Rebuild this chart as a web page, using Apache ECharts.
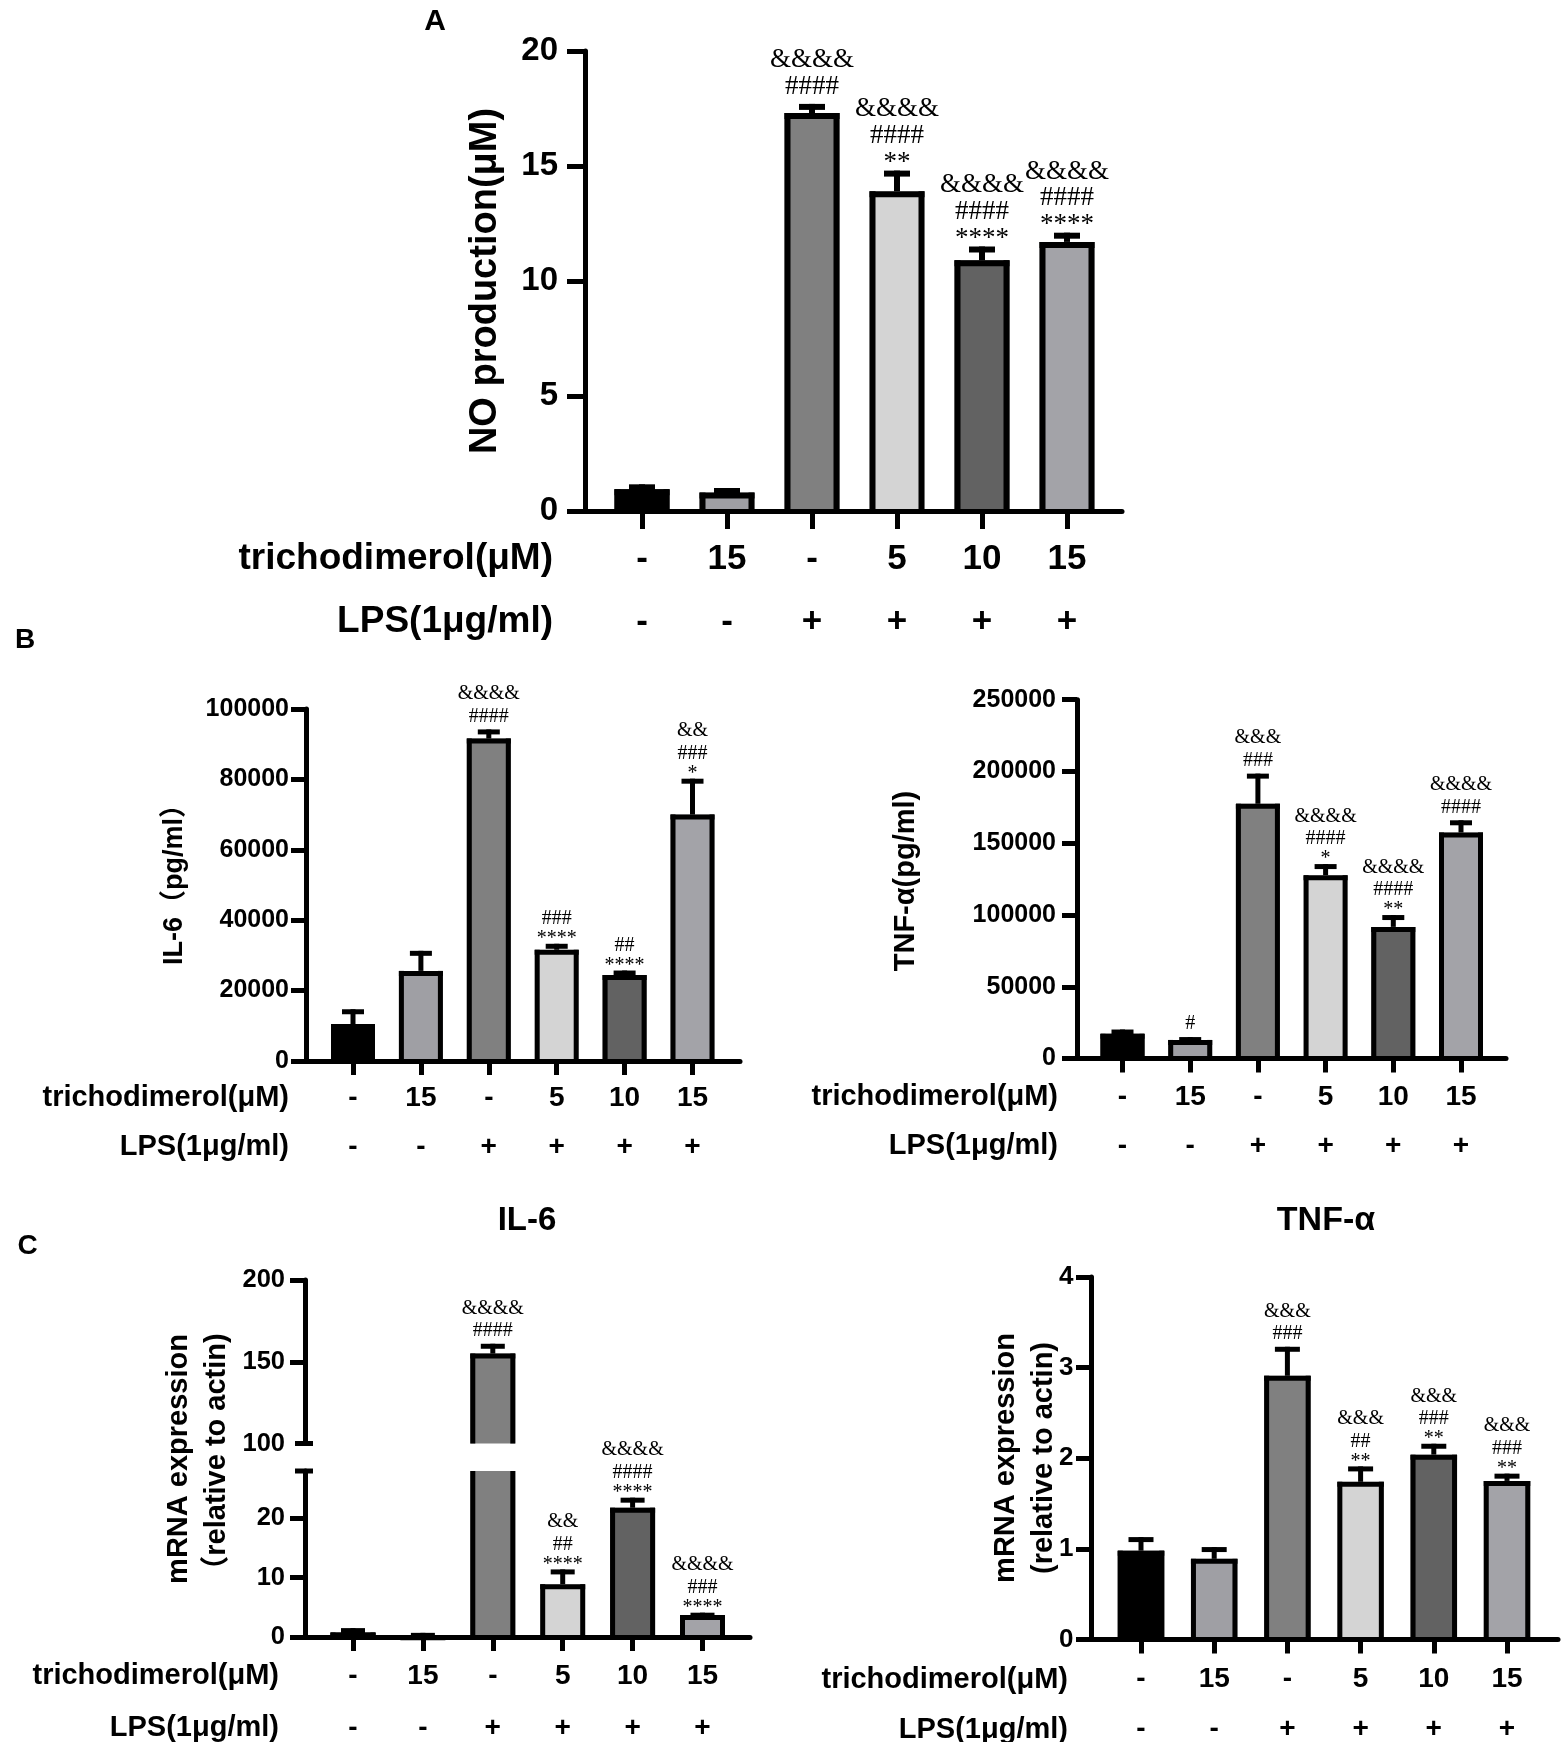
<!DOCTYPE html>
<html><head><meta charset="utf-8">
<script src="https://cdn.jsdelivr.net/npm/echarts@6/dist/echarts.min.js"></script>
<style>html,body{margin:0;padding:0;background:#fff}#c{width:1562px;height:1742px}</style>
</head><body><div id="c"></div>
<script>
// ---------- DATA ----------
const trichodimerol = ['-', '15', '-', '5', '10', '15'];
const lps = ['-', '-', '+', '+', '+', '+'];
const barColors = ['#000000', '#9f9fa4', '#808080', '#d4d4d4', '#626262', '#a3a3a8'];

// Panel A: NO production (μM)
const noMean = [0.95, 0.8, 17.3, 13.9, 10.9, 11.7];
const noErr = [1.16, 1.0, 17.7, 14.8, 11.5, 12.1];
const noSig = ['', '', '&&&&\n####', '&&&&\n####\n**', '&&&&\n####\n****', '&&&&\n####\n****'];
const noTicks = { min: 0, max: 20, interval: 5 };

// Panel B left: IL-6 (pg/ml)
const il6Mean = [10500, 25600, 91600, 31600, 24400, 70000];
const il6Err = [14700, 31300, 94200, 33300, 25700, 80200];
const il6Sig = ['', '', '&&&&\n####', '###\n****', '##\n****', '&&\n###\n*'];
const il6Ticks = { min: 0, max: 100000, interval: 20000 };

// Panel B right: TNF-α (pg/ml)
const tnfMean = [17250, 13000, 177500, 127750, 91750, 157500];
const tnfErr = [20250, 15000, 198500, 135500, 100000, 166000];
const tnfSig = ['', '#', '&&&\n###', '&&&&\n####\n*', '&&&&\n####\n**', '&&&&\n####'];
const tnfTicks = { min: 0, max: 250000, interval: 50000 };

// Panel C left: IL-6 mRNA (broken axis)
const il6mMean = [0.75, 0.3, 155, 8.9, 21.8, 3.7];
const il6mErr = [1.5, 0.7, 161, 11.4, 23.5, 4.1];
const il6mSig = ['', '', '&&&&\n####', '&&\n##\n****', '&&&&\n####\n****', '&&&&\n###\n****'];
const il6mLowTicks = { min: 0, max: 28, interval: 10, values: [0, 10, 20] };
const il6mHighTicks = { min: 100, max: 200, interval: 50, values: [100, 150, 200] };

// Panel C right: TNF-α mRNA
const tnfmMean = [0.98, 0.89, 2.91, 1.74, 2.04, 1.75];
const tnfmErr = [1.13, 1.02, 3.23, 1.91, 2.16, 1.83];
const tnfmSig = ['', '', '&&&\n###', '&&&\n##\n**', '&&&\n###\n**', '&&&\n###\n**'];
const tnfmTicks = { min: 0, max: 4, interval: 1 };

// ---------- LAYOUT ----------
const FONT = '"Liberation Sans", Arial, "Noto Sans CJK SC", sans-serif';
const SERIF = '"Liberation Serif", "Times New Roman", serif';
const annBig = { F: 27, L: 26.7, h0: 17.4, s0: 12, gs: 22.5 };
const annSmall = { F: 20, L: 22.5, h0: 13, s0: 8.5, gs: 16.5 };

const L = {
  A:  { axisX: 585, endX: 1122, top: 51, bottom: 511, first: 642, step: 85, barW: 55, border: 6, axisW: 5, yTick: 18, xTick: 18, yFont: 33, yMargin: 27, xFont: 35, rowLH: 63, row1: 559, capW: 26, errW: 6, ann: annBig, headRight: 553, headFont: 37 },
  BL: { axisX: 306, endX: 740, top: 709, bottom: 1061, first: 353, step: 67.9, barW: 44, border: 5, axisW: 5, yTick: 15, xTick: 14, yFont: 25, yMargin: 17, xFont: 28, rowLH: 49, row1: 1098, capW: 22, errW: 5, ann: annSmall, headRight: 289, headFont: 29 },
  BR: { axisX: 1077, endX: 1506, top: 699.7, bottom: 1058.6, first: 1122.5, step: 67.7, barW: 44, border: 5, axisW: 5, yTick: 15, xTick: 14, yFont: 25, yMargin: 21, xFont: 28, rowLH: 49, row1: 1097, capW: 22, errW: 5, ann: annSmall, headRight: 1058, headFont: 29 },
  CL: { axisX: 305, endX: 750, top: 1471, bottom: 1637, first: 353, step: 69.9, barW: 45, border: 5, axisW: 5, yTick: 15, xTick: 14, yFont: 25.5, yMargin: 20, xFont: 28, rowLH: 52, row1: 1676, capW: 24, errW: 5, ann: annSmall, headRight: 279, headFont: 29 },
  CU: { axisX: 305, endX: 750, top: 1280, bottom: 1443.5, first: 353, step: 69.9, barW: 45, border: 5, axisW: 5, yTick: 15, xTick: 14, yFont: 25.5, yMargin: 20, xFont: 28, rowLH: 52, row1: 1676, capW: 24, errW: 5, ann: annSmall },
  CR: { axisX: 1091, endX: 1558, top: 1277, bottom: 1639.5, first: 1141, step: 73.2, barW: 46.5, border: 5, axisW: 5, yTick: 15, xTick: 14, yFont: 26, yMargin: 17.5, xFont: 28, rowLH: 50, row1: 1679.5, capW: 25, errW: 5, ann: annSmall, headRight: 1068, headFont: 29 }
};

// ---------- BUILDERS ----------
const grids = [], xAxes = [], yAxes = [], series = [], graphics = [];

function addPanel(p, ticks, means, errs, sigs, opts) {
  opts = opts || {};
  const gi = grids.length;
  grids.push({ left: p.axisX, top: p.top, width: p.endX - p.axisX, height: p.bottom - p.top, containLabel: false, outerBoundsMode: 'none' });
  const showX = !opts.hideX;
  xAxes.push({
    type: 'value', gridIndex: gi, z: 5,
    min: (p.axisX - p.first) / p.step, max: (p.endX - p.first) / p.step,
    axisLine: { show: showX, onZero: false, lineStyle: { color: '#000', width: p.axisW } },
    axisTick: { show: showX, customValues: [0, 1, 2, 3, 4, 5], length: p.xTick, lineStyle: { color: '#000', width: p.axisW } },
    axisLabel: {
      show: showX, customValues: [0, 1, 2, 3, 4, 5], margin: p.row1 - p.bottom - p.rowLH / 2,
      formatter: v => { const i = Math.round(v); return trichodimerol[i] + '\n' + lps[i]; },
      lineHeight: p.rowLH, fontSize: p.xFont, fontWeight: 'bold', color: '#000', fontFamily: FONT
    },
    splitLine: { show: false }
  });
  const yAx = {
    type: 'value', gridIndex: gi, z: 5, min: ticks.min, max: ticks.max, interval: ticks.interval,
    axisLine: { show: true, onZero: false, lineStyle: { color: '#000', width: p.axisW } },
    axisTick: { show: true, length: p.yTick, lineStyle: { color: '#000', width: p.axisW } },
    axisLabel: { margin: p.yMargin, fontSize: p.yFont, fontWeight: 'bold', color: '#000', fontFamily: FONT, formatter: v => String(v) },
    splitLine: { show: false }
  };
  if (ticks.values) {
    yAx.axisLabel.customValues = ticks.values;
    yAx.axisTick.customValues = opts.tickValues || ticks.values;
  }
  yAxes.push(yAx);

  const lo = ticks.min, hi = ticks.max;
  // bars
  series.push({
    type: 'custom', xAxisIndex: gi, yAxisIndex: gi, z: 2,
    data: means.map((m, i) => [i, m]),
    encode: { x: 0, y: 1 },
    renderItem: (params, api) => {
      const i = api.value(0), v = api.value(1);
      if (v <= lo) return null;
      const c = api.coord([i, Math.min(v, hi)]);
      const yb = api.coord([i, Math.max(lo, 0)])[1];
      const W = p.barW, b = p.border, h = b / 2;
      const x0 = c[0] - W / 2, x1 = c[0] + W / 2, yt = c[1];
      const clipTop = v > hi;
      const st = { stroke: '#000', lineWidth: b, lineCap: 'butt' };
      const ch = [
        { type: 'rect', shape: { x: x0, y: yt, width: W, height: yb - yt }, style: { fill: barColors[i] } },
        { type: 'line', shape: { x1: x0 + h, y1: yt, x2: x0 + h, y2: yb }, style: st },
        { type: 'line', shape: { x1: x1 - h, y1: yt, x2: x1 - h, y2: yb }, style: st }
      ];
      if (!clipTop) ch.push({ type: 'line', shape: { x1: x0, y1: yt + h, x2: x1, y2: yt + h }, style: st });
      return { type: 'group', children: ch };
    }
  });
  // error bars + significance labels
  const errData = [];
  means.forEach((m, i) => { if (m >= lo && errs[i] <= hi) errData.push([i, m, errs[i]]); });
  series.push({
    type: 'custom', xAxisIndex: gi, yAxisIndex: gi, z: 3,
    data: errData, encode: { x: 0, y: [1, 2] },
    renderItem: (params, api) => {
      const i = api.value(0), m = api.value(1), e = api.value(2);
      const top = api.coord([i, m]), cap = api.coord([i, e]);
      const x = top[0], lw = p.errW;
      const cy = cap[1] + lw / 2;
      const st = { stroke: '#000', lineWidth: lw, lineCap: 'butt' };
      const ch = [
        { type: 'line', shape: { x1: x, y1: top[1], x2: x, y2: cap[1] }, style: st },
        { type: 'line', shape: { x1: x - p.capW / 2, y1: cy, x2: x + p.capW / 2, y2: cy }, style: st }
      ];
      const sig = sigs[i];
      if (sig) {
        const a = p.ann;
        const lines = sig.split('\n');
        let k = lines.length - 1;
        let c;
        const txt = (yy, t) => ({ type: 'text', x: x, y: yy, style: { text: t, fontSize: a.F, fontFamily: SERIF, fill: '#000', align: 'center', verticalAlign: 'middle' } });
        if (lines[k][0] === '*') {
          ch.push(txt(cap[1] - a.s0 + 0.17 * a.F, lines[k]));
          c = cap[1] - a.s0 - a.gs;
          k--;
        } else {
          c = cap[1] - a.h0;
        }
        for (; k >= 0; k--) { ch.push(txt(c, lines[k])); c -= a.L; }
      }
      return { type: 'group', children: ch };
    }
  });

  if (p.headRight !== undefined) {
    ['trichodimerol(μM)', 'LPS(1μg/ml)'].forEach((t, r) => {
      graphics.push({ type: 'text', x: p.headRight, y: p.row1 + r * p.rowLH, z: 10,
        style: { text: t, fontSize: p.headFont, fontWeight: 'bold', fontFamily: FONT, fill: '#000', align: 'right', verticalAlign: 'middle' } });
    });
  }
}

addPanel(L.A, noTicks, noMean, noErr, noSig);
addPanel(L.BL, il6Ticks, il6Mean, il6Err, il6Sig);
addPanel(L.BR, tnfTicks, tnfMean, tnfErr, tnfSig);
addPanel(L.CL, il6mLowTicks, il6mMean, il6mErr, il6mSig);
addPanel(L.CU, il6mHighTicks, il6mMean, il6mErr, il6mSig, { hideX: true, tickValues: [150, 200] });
addPanel(L.CR, tnfmTicks, tnfmMean, tnfmErr, tnfmSig);

// axis break marks (C left)
[L.CU.bottom, L.CL.top].forEach(yy => {
  graphics.push({ type: 'line', z: 10, shape: { x1: L.CL.axisX - 10, y1: yy, x2: L.CL.axisX + 8, y2: yy }, style: { stroke: '#000', lineWidth: 5 } });
});

function label(t, x, y, size, extra) {
  graphics.push({ type: 'text', x: x, y: y, z: 10,
    style: Object.assign({ text: t, fontSize: size, fontWeight: 'bold', fontFamily: FONT, fill: '#000', align: 'center', verticalAlign: 'middle' }, extra || {}) });
}
function vlabel(t, x, y, size, lh) {
  graphics.push({ type: 'text', x: x, y: y, rotation: Math.PI / 2, z: 10,
    style: { text: t, fontSize: size, fontWeight: 'bold', fontFamily: FONT, fill: '#000', align: 'center', verticalAlign: 'middle', lineHeight: lh || size * 1.2 } });
}
label('A', 435, 22, 30);
label('B', 25, 640, 28);
label('C', 27.5, 1246.5, 28);
label('IL-6', 527, 1221, 33);
label('TNF-α', 1326, 1221, 34);
vlabel('NO production(μM)', 486, 281, 38);
vlabel('IL-6（pg/ml）', 175, 878, 27);
vlabel('TNF-α(pg/ml)', 906, 881, 29);
vlabel('mRNA expression\n（relative to actin)', 198, 1459, 29, 38);
vlabel('mRNA expression\n(relative to actin)', 1025, 1458, 29, 38);

const chart = echarts.init(document.getElementById('c'), null, { renderer: 'canvas' });
chart.setOption({
  animation: false,
  backgroundColor: '#fff',
  grid: grids, xAxis: xAxes, yAxis: yAxes, series: series, graphic: graphics
});
</script>
</body></html>
